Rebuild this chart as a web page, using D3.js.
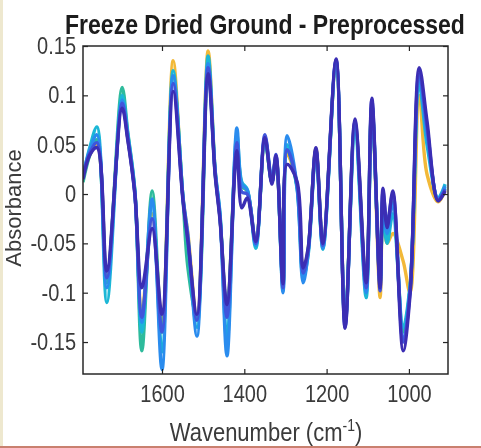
<!DOCTYPE html>
<html>
<head>
<meta charset="utf-8">
<script src="https://cdn.jsdelivr.net/npm/d3@7.9.0/dist/d3.min.js"></script>
<style>
  html, body { margin: 0; padding: 0; background: #fff; }
  svg { display: block; font-family: "Liberation Sans", Arial, sans-serif; }
  /* the screenshot text looks a bit taller than Arial */
  .tall { transform-box: fill-box; transform-origin: center; transform: scaleY(1.17); }
</style>
</head>
<body>
<svg id="chart" width="481" height="448"></svg>
<script>
const wavenumbers = [1792,1775,1758,1734,1697,1683,1666,1649,1624,1600,1573,1549,1537,1515,1488,1471,1459,1442,1418,1406,1393,1372,1350,1333,1323,1306,1296,1272,1257,1245,1226,1209,1177,1155,1131,1104,1090,1070,1063,1053,1039,1014,997,975,956,929,912];

// one array per sample spectrum (drawn in this order)
const yellowSeries = [0.015,0.040,0.050,-0.085,0.095,0.056,0.002,-0.120,-0.020,-0.130,0.135,-0.004,-0.040,-0.125,0.145,0.024,-0.024,-0.120,0.048,0.010,0.003,-0.048,0.055,0.012,0.038,-0.090,0.040,0.010,-0.078,-0.056,0.046,-0.050,0.132,-0.130,0.072,-0.092,0.090,-0.105,-0.010,-0.050,-0.040,-0.068,-0.100,0.100,0.020,-0.008,0.004];
const greenSeries = [0.012,0.040,0.055,-0.090,0.108,0.062,0.004,-0.159,0.003,-0.140,0.118,-0.005,-0.075,-0.125,0.130,0.022,-0.024,-0.120,0.050,0.008,0.003,-0.050,0.054,0.012,0.036,-0.092,0.045,0.008,-0.080,-0.058,0.044,-0.052,0.133,-0.130,0.068,-0.095,0.090,-0.092,-0.005,-0.038,-0.008,-0.140,-0.095,0.115,0.062,-0.006,0.006];
const cyanSeries = [0.018,0.048,0.068,-0.110,0.100,0.060,0.003,-0.140,-0.010,-0.160,0.125,-0.004,-0.050,-0.135,0.140,0.025,-0.020,-0.150,0.060,0.012,0.005,-0.055,0.055,0.012,0.035,-0.098,0.050,0.006,-0.085,-0.062,0.042,-0.056,0.134,-0.128,0.062,-0.105,0.088,-0.085,-0.020,-0.050,-0.020,-0.135,-0.092,0.110,0.050,-0.004,0.010];
const lightBlueSeries = [0.020,0.045,0.060,-0.095,0.095,0.058,0.002,-0.130,-0.005,-0.178,0.120,-0.003,-0.042,-0.144,0.132,0.024,-0.022,-0.164,0.067,0.010,0.004,-0.052,0.058,0.015,0.036,-0.100,0.059,0.008,-0.090,-0.060,0.044,-0.055,0.135,-0.132,0.070,-0.100,0.090,-0.090,-0.010,-0.040,-0.010,-0.145,-0.095,0.118,0.060,-0.005,0.008];
const blueSeries = [0.018,0.042,0.052,-0.085,0.092,0.056,0.000,-0.125,-0.025,-0.140,0.112,-0.005,-0.045,-0.128,0.128,0.022,-0.025,-0.125,0.052,0.002,0.000,-0.050,0.060,0.012,0.040,-0.095,0.045,0.010,-0.080,-0.058,0.045,-0.052,0.136,-0.135,0.074,-0.095,0.095,-0.098,0.002,-0.030,0.000,-0.150,-0.098,0.122,0.068,-0.006,0.005];
const darkSeries = [0.015,0.040,0.047,-0.078,0.087,0.054,0.000,-0.095,-0.035,-0.122,0.104,-0.007,-0.048,-0.122,0.122,0.020,-0.027,-0.112,0.044,-0.014,-0.004,-0.048,0.057,0.010,0.039,-0.091,0.030,0.013,-0.075,-0.055,0.047,-0.050,0.137,-0.136,0.076,-0.090,0.097,-0.095,0.006,-0.034,0.003,-0.159,-0.101,0.128,0.074,-0.007,0.003];

const seriesList = [yellowSeries, greenSeries, cyanSeries, lightBlueSeries, blueSeries, darkSeries];
const seriesColors = ['#f2b937', '#2fbb9c', '#1ab7d6', '#2a8cee', '#3f55db', '#3b2db4'];

const xTicks = [1600, 1400, 1200, 1000];
const yTicks = [-0.15, -0.1, -0.05, 0, 0.05, 0.1, 0.15];

const svg = d3.select('#chart');
const plotLeft = 83, plotRight = 448, plotTop = 46, plotBottom = 374;

// reversed x axis like the original
let x = d3.scaleLinear().domain([1792, 905]).range([plotLeft, plotRight]);
let y = d3.scaleLinear().domain([-0.1824, 0.15]).range([plotBottom, plotTop]);

// soft blur, the original is a blurry screenshot
svg.append('filter').attr('id', 'soft')
  .append('feGaussianBlur').attr('stdDeviation', 0.5);

// faint border remnants of the screenshot
svg.append('rect').attr('x', 0).attr('y', 0).attr('width', 3).attr('height', 448).attr('fill', '#eee8cf');
svg.append('rect').attr('x', 0).attr('y', 446).attr('width', 481).attr('height', 2).attr('fill', '#c9806f');

svg.append('clipPath').attr('id', 'plot-clip')
  .append('rect')
  .attr('x', plotLeft).attr('y', plotTop)
  .attr('width', plotRight - plotLeft).attr('height', plotBottom - plotTop);

let line = d3.line()
  .x((d, i) => x(wavenumbers[i]))
  .y((d) => y(d))
  .curve(d3.curveCatmullRom.alpha(0.5));

let root = svg.append('g').attr('filter', 'url(#soft)');
let plot = root.append('g').attr('clip-path', 'url(#plot-clip)');
seriesList.forEach((values, idx) => {
  plot.append('path')
    .attr('d', line(values))
    .attr('fill', 'none')
    .attr('stroke', seriesColors[idx])
    .attr('stroke-width', 3.4)
    .attr('stroke-linejoin', 'round');
});

// MATLAB-style box with inward ticks on all sides
const axisColor = '#262626';
const tickLen = 5;
const fmt = (v) => String(+v.toFixed(2));

root.append('g').attr('transform', `translate(0,${plotBottom})`)
  .call(d3.axisBottom(x).tickValues(xTicks).tickSize(-tickLen).tickPadding(13).tickFormat(d3.format('d')));
root.append('g').attr('transform', `translate(0,${plotTop})`)
  .call(d3.axisTop(x).tickValues(xTicks).tickSize(-tickLen).tickFormat(''));
root.append('g').attr('transform', `translate(${plotLeft},0)`)
  .call(d3.axisLeft(y).tickValues(yTicks).tickSize(-tickLen).tickPadding(7).tickFormat(fmt));
root.append('g').attr('transform', `translate(${plotRight},0)`)
  .call(d3.axisRight(y).tickValues(yTicks).tickSize(-tickLen).tickFormat(''));

svg.selectAll('.domain').remove();
svg.selectAll('.tick line').attr('stroke', axisColor).attr('stroke-width', 1.2);
svg.selectAll('.tick text')
  .attr('class', 'tall')
  .attr('fill', '#3a3a3a')
  .style('font-size', '20px')
  .style('font-family', '"Liberation Sans", Arial, sans-serif');

root.append('rect')
  .attr('x', plotLeft).attr('y', plotTop)
  .attr('width', plotRight - plotLeft).attr('height', plotBottom - plotTop)
  .attr('fill', 'none')
  .attr('stroke', axisColor)
  .attr('stroke-width', 1.5);

// title and axis labels
root.append('text')
  .attr('class', 'tall')
  .attr('x', 265).attr('y', 33)
  .attr('text-anchor', 'middle')
  .style('font-size', '23px')
  .style('font-weight', 'bold')
  .attr('fill', '#1a1a1a')
  .text('Freeze Dried Ground - Preprocessed');

let xLabel = root.append('text')
  .attr('class', 'tall')
  .attr('x', 266).attr('y', 440)
  .attr('text-anchor', 'middle')
  .style('font-size', '22px')
  .attr('fill', '#3a3a3a');
xLabel.append('tspan').text('Wavenumber (cm');
xLabel.append('tspan').attr('dy', -9).style('font-size', '14px').text('-1');
xLabel.append('tspan').attr('dy', 9).text(')');

root.append('text')
  .attr('transform', 'translate(21,208) rotate(-90)')
  .attr('text-anchor', 'middle')
  .style('font-size', '22px')
  .attr('fill', '#3a3a3a')
  .text('Absorbance');
</script>
</body>
</html>
